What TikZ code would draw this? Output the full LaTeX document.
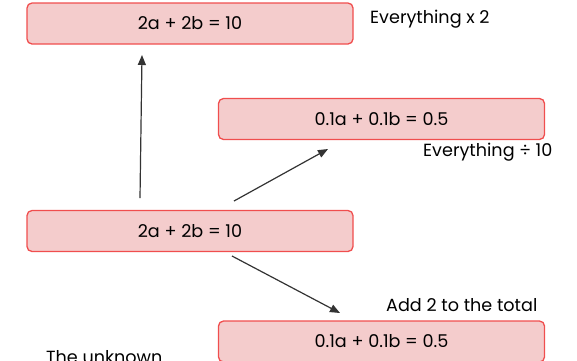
\documentclass[tikz,border=0pt]{standalone}
\usepackage{fontspec}
\setmainfont{Poppins}
\usepackage{tikz}
\usetikzlibrary{arrows.meta,positioning}
\definecolor{boxfill}{RGB}{244,204,204}
\definecolor{boxedge}{RGB}{240,78,78}
\definecolor{arrowgrey}{RGB}{51,51,51}

\begin{document}
\begin{tikzpicture}[x=1pt,y=-1pt,
    eqbox/.style={draw=boxedge, fill=boxfill, line width=1.3pt, rounded corners=5pt,
      minimum width=326pt, minimum height=41pt, inner sep=0pt, font=\fontsize{17.6}{20}\selectfont},
    note/.style={anchor=west, inner sep=0pt, font=\fontsize{17.6}{20}\selectfont},
    move/.style={-{Triangle[length=10pt,width=8pt]}, arrowgrey, line width=1.2pt}]
        \clip (0,0) rectangle (577,360);

        % Equation boxes
        \node[eqbox] (top) at (190,23.5) {2a + 2b = 10};
        \node[eqbox] (tenth) at (381.5,119) {0.1a + 0.1b = 0.5};
        \node[eqbox] (start) at (190,231) {2a + 2b = 10};
        \node[eqbox] (added) at (381.5,341.5) {0.1a + 0.1b = 0.5};

        % Notes
        \node[note] (double) at (370,19) {Everything x 2};
        \node[note] (divide) at (423,152) {Everything ÷ 10};
        \node[note] (addtwo) at (386,305) {Add 2 to the total};
        \node[note] (unknown) at (46,357) {The unknown};

        % Arrow ends
        \coordinate (upfrom) at (140,198);
        \coordinate (upto) at (142,55);
        \coordinate (divfrom) at (234,201);
        \coordinate (divto) at (328,149);
        \coordinate (addfrom) at (232,256);
        \coordinate (addto) at (340,313);

        \draw[move] (upfrom) -- (upto);
        \draw[move] (divfrom) -- (divto);
        \draw[move] (addfrom) -- (addto);
      \end{tikzpicture}
\end{document}
